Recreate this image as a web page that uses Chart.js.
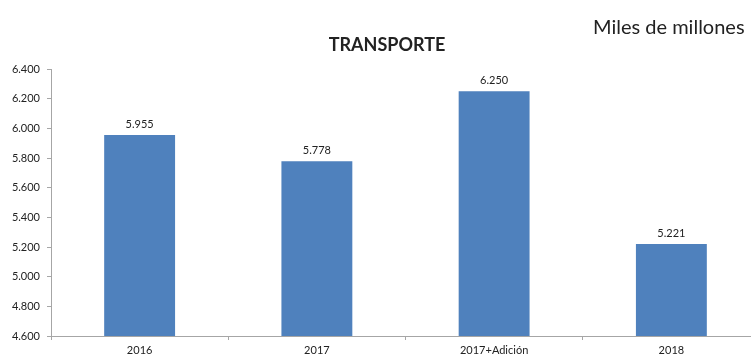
<!DOCTYPE html>
<html>
<head>
<meta charset="utf-8">
<script src="https://cdn.jsdelivr.net/npm/chart.js@4/dist/chart.umd.min.js"></script>
<style>
  html, body { margin: 0; padding: 0; background: #fff; overflow: hidden; }
  #wrap { position: relative; width: 774px; height: 360px; }
  #units { position: absolute; left: 593px; top: 14px; font: 20px Lato, "Open Sans", sans-serif; color: #222; white-space: nowrap; }
</style>
</head>
<body>
<div id="wrap">
  <canvas id="chart" width="774" height="360"></canvas>
  <div id="units">Miles de millones</div>
</div>
<script>
let categories = ["2016", "2017", "2017+Adición", "2018"];
let values = [5955, 5778, 6250, 5221];
let yMin = 4600;
let yMax = 6400;
let yStep = 200;
let chartTitle = "TRANSPORTE";

let axisColor = "#a6a6a6";
let textColor = "#222";
let fontFamily = "Lato, 'Open Sans', sans-serif";

// 5955 -> "5.955"
function fmt(n) {
    return Math.floor(n / 1000) + "." + String(n % 1000).padStart(3, "0");
}

// heading above the plot, centred a bit right of the axis midpoint
let heading = {
    id: "heading",
    afterDraw(chart) {
        let ctx = chart.ctx;
        ctx.save();
        ctx.font = "bold 18px " + fontFamily;
        ctx.fillStyle = textColor;
        ctx.textAlign = "center";
        ctx.textBaseline = "middle";
        ctx.fillText(chartTitle, 387, 45);
        ctx.restore();
    }
};

// value labels above each bar
let barLabels = {
    id: "barLabels",
    afterDatasetsDraw(chart) {
        let ctx = chart.ctx;
        let meta = chart.getDatasetMeta(0);
        ctx.save();
        ctx.font = "11px " + fontFamily;
        ctx.fillStyle = textColor;
        ctx.textAlign = "center";
        ctx.textBaseline = "bottom";
        meta.data.forEach((bar, i) => {
            ctx.fillText(fmt(values[i]), bar.x, bar.y - 5);
        });
        ctx.restore();
    }
};

let chart = new Chart(document.getElementById("chart"), {
    type: "bar",
    data: {
        labels: categories,
        datasets: [{
            data: values,
            backgroundColor: "#4f81bd",
            categoryPercentage: 1,
            barPercentage: 0.4
        }]
    },
    options: {
        responsive: false,
        animation: false,
        layout: { padding: { top: 69, right: 14, left: 0, bottom: 0 } },
        plugins: {
            legend: { display: false },
            tooltip: { enabled: false },
            title: { display: false }
        },
        scales: {
            x: {
                afterFit: s => { s.height = 24; },
                grid: { offset: true, drawOnChartArea: false, color: axisColor, tickLength: 4 },
                border: { color: axisColor },
                ticks: { color: textColor, font: { family: fontFamily, size: 11 }, padding: 4 }
            },
            y: {
                min: yMin,
                max: yMax,
                afterFit: s => { s.width = 51; },
                grid: { drawOnChartArea: false, color: axisColor, tickLength: 4 },
                border: { color: axisColor },
                ticks: {
                    stepSize: yStep,
                    color: textColor,
                    font: { family: fontFamily, size: 11 },
                    padding: 7,
                    callback: v => fmt(v)
                }
            }
        }
    },
    plugins: [barLabels, heading]
});
</script>
</body>
</html>
